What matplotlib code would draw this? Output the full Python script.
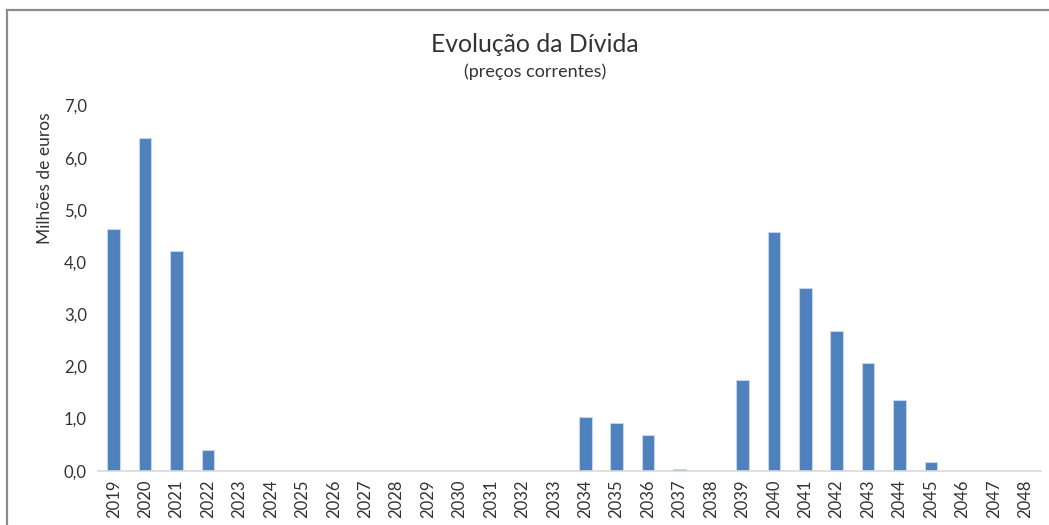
import matplotlib
matplotlib.use("Agg")
import matplotlib.pyplot as plt
from matplotlib.lines import Line2D
from matplotlib.ticker import FuncFormatter

years = [str(y) for y in range(2019, 2049)]
values = [4.63, 6.37, 4.22, 0.40, 0.0, 0.0, 0.0, 0.0, 0.0, 0.0,
          0.0, 0.0, 0.0, 0.0, 0.0, 1.02, 0.91, 0.69, 0.03, 0.0,
          1.73, 4.57, 3.51, 2.67, 2.06, 1.35, 0.17, 0.0, 0.0, 0.0]
yticks = [0, 1, 2, 3, 4, 5, 6, 7]

title = "Evolução da Dívida"
subtitle = "(preços correntes)"
ylabel = "Milhões de euros"

plt.rcParams['font.family'] = ['Lato', 'DejaVu Sans']
txt = '#333333'
W, H = 1049, 525
fig = plt.figure(figsize=(W / 100, H / 100), dpi=100)
ax = fig.add_axes([98 / W, 1 - 470.7 / H, (1041 - 98) / W, (470.7 - 105.5) / H])

x = list(range(len(years)))
ax.bar(x, values, width=0.4, color='#4f81bd', edgecolor='#c6d6ea', linewidth=0.8)
ax.set_xlim(-0.5, len(years) - 0.5)
ax.set_ylim(0, 7)
ax.set_yticks(yticks)
ax.yaxis.set_major_formatter(FuncFormatter(lambda v, p: f"{v:.1f}".replace('.', ',')))
ax.set_xticks(x)
ax.set_xticklabels(years, rotation=90)
ax.tick_params(axis='both', length=0, colors=txt, labelsize=12)
ax.tick_params(axis='x', pad=6)
ax.tick_params(axis='y', pad=8)
for s in ['top', 'right', 'left']:
    ax.spines[s].set_visible(False)
ax.spines['bottom'].set_color('#d9d9d9')
ax.spines['bottom'].set_linewidth(1.2)

fig.text(45 / W, 1 - 178 / H, ylabel, rotation=90, ha='center', va='center',
         fontsize=12.5, color=txt)
fig.text(535 / W, 1 - 44 / H, title, ha='center', va='center', fontsize=17.8,
         color=txt)
fig.text(535 / W, 1 - 72 / H, subtitle, ha='center', va='center', fontsize=13,
         color=txt)

# chart frame (left and top edges visible)
fig.add_artist(Line2D([6.5 / W, 6.5 / W], [0, 1 - 10 / H], transform=fig.transFigure,
                      color='#8c8c8c', linewidth=1.6))
fig.add_artist(Line2D([6.5 / W, 1], [1 - 10 / H, 1 - 10 / H], transform=fig.transFigure,
                      color='#8c8c8c', linewidth=1.6))

fig.savefig('out.png', dpi=100)
